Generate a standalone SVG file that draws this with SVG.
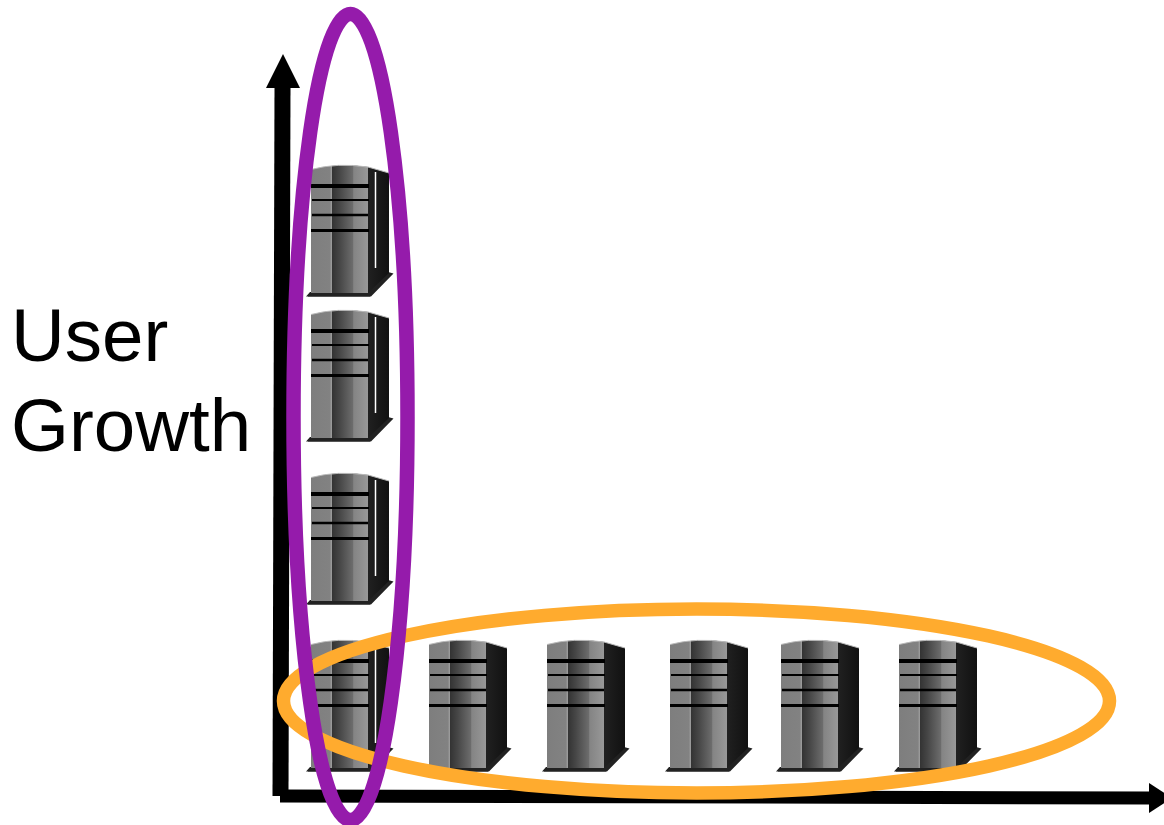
<svg xmlns="http://www.w3.org/2000/svg" width="1164" height="825" viewBox="0 0 1164 825">
<defs>
<linearGradient id="front" x1="0" x2="1" y1="0" y2="0">
<stop offset="0" stop-color="#7e7e7e"/><stop offset="0.33" stop-color="#828282"/><stop offset="0.36" stop-color="#9a9a9a"/><stop offset="0.375" stop-color="#343434"/><stop offset="0.5" stop-color="#464646"/><stop offset="0.73" stop-color="#6c6c6c"/><stop offset="0.75" stop-color="#848484"/><stop offset="1" stop-color="#989898"/>
</linearGradient>
<linearGradient id="side" x1="0" x2="1" y1="0" y2="0">
<stop offset="0" stop-color="#4a4a4a"/><stop offset="1" stop-color="#111"/>
</linearGradient>
<g id="server">
<path d="M-5 131.500L-1 127H57L77 107L82.500 108.500L60 131.500Z" fill="#222"/>
<path d="M-3 131.500H59" stroke="#555" stroke-width="1" fill="none"/>
<path d="M0 5Q26 -2 57 2L78 8V108L57 128H0Z" fill="url(#side)"/>
<path d="M0 4.500Q26 -2.500 57 2V128H0Z" fill="url(#front)"/>
<path d="M0 4.500Q26 -2.500 57 2L78 8" stroke="#bbb" stroke-width="1" fill="none"/>
<path d="M0 21H58" stroke="#000" stroke-width="4"/>
<path d="M1 35H58" stroke="#000" stroke-width="2"/>
<path d="M1 50H57" stroke="#000" stroke-width="2.500"/>
<path d="M0 65.500H58" stroke="#000" stroke-width="3"/>
</g>
</defs>
<style>
text{font-family:"Liberation Sans",Arial,sans-serif;font-size:74.500px;fill:#000}
.ring{fill:none}
</style>
<rect width="1164" height="825" fill="#fff"/>
<g id="connectors">
<path d="M280.500 796L282.500 86" fill="none" stroke="#000" stroke-width="16"/>
<path d="M283 54L300 88H266Z"/>
<path d="M280 796L1150 798" fill="none" stroke="#000" stroke-width="13"/>
<path d="M1149 783L1172 798L1149 813Z"/>
</g>
<g id="server-1"><use href="#server" x="311" y="165"/><path d="M375.500 172V268" stroke="#fff" stroke-width="1.500"/></g>
<g id="server-2"><use href="#server" x="311" y="310"/><path d="M375.500 317V413" stroke="#fff" stroke-width="1.500"/></g>
<g id="server-3"><use href="#server" x="311" y="473"/><path d="M375.500 480V576" stroke="#fff" stroke-width="1.500"/></g>
<g id="server-4"><use href="#server" x="311" y="640"/><path d="M375.500 647V743" stroke="#fff" stroke-width="1.500"/></g>
<g id="server-5"><use href="#server" x="429" y="640"/></g>
<g id="server-6"><use href="#server" x="547" y="640"/></g>
<g id="server-7"><use href="#server" x="670" y="640"/></g>
<g id="server-8"><use href="#server" x="781" y="640"/></g>
<g id="server-9"><use href="#server" x="899" y="640"/></g>
<g id="user-growth-label"><text x="11" y="361">User</text><text x="11" y="451">Growth</text></g>
<g id="orange-ellipse"><ellipse class="ring" stroke-width="13.500" cx="696.500" cy="701" rx="413" ry="92" stroke="#ffab2e"/></g>
<g id="purple-ellipse"><ellipse class="ring" stroke-width="14.500" cx="350.500" cy="417" rx="57" ry="403" stroke="#951bab"/></g>
</svg>
